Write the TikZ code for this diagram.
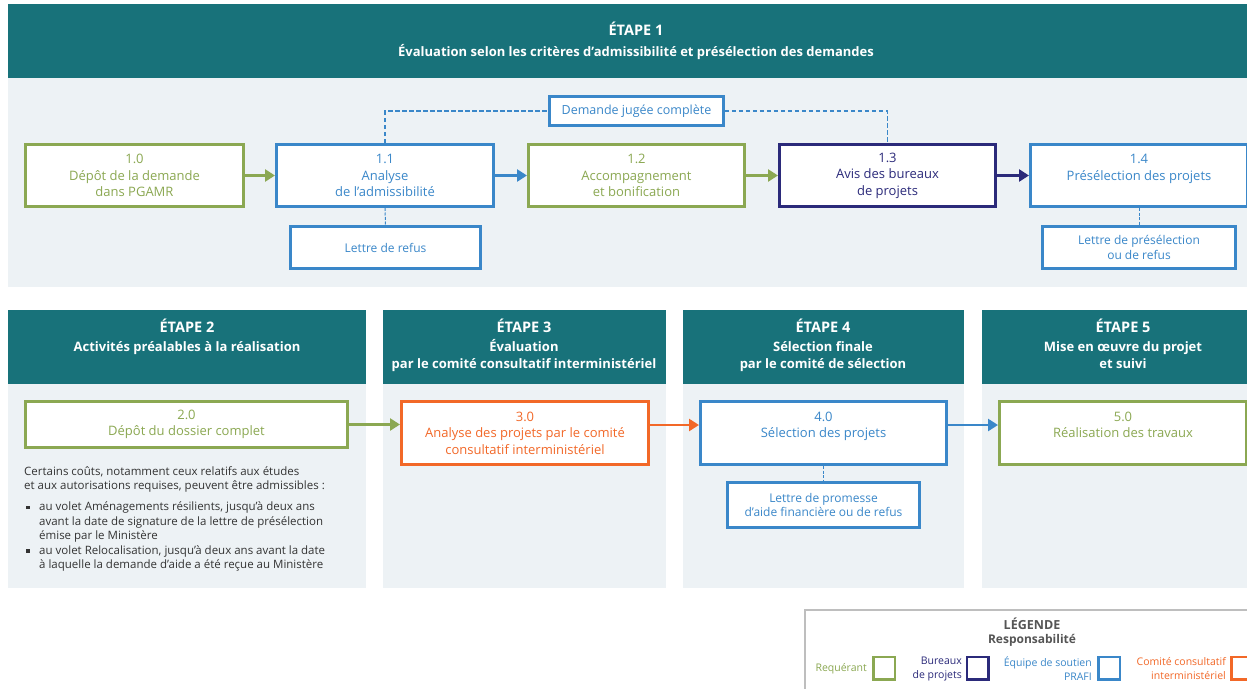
\documentclass[tikz,border=0pt]{standalone}
\usepackage{fontspec}
\setmainfont{Open Sans}
\usetikzlibrary{arrows.meta}
\definecolor{hdrteal}{RGB}{24,114,122}
\definecolor{panelbg}{RGB}{237,242,245}
\definecolor{cgreen}{RGB}{139,168,82}
\definecolor{cblue}{RGB}{58,135,201}
\definecolor{cnavy}{RGB}{43,42,122}
\definecolor{corange}{RGB}{242,104,40}
\definecolor{cgray}{RGB}{85,85,85}
\definecolor{lgborder}{RGB}{190,190,190}
\newcommand{\sqbul}{\makebox[15pt][l]{\hspace{2pt}\raisebox{1.5pt}{\rule{3.5pt}{3.5pt}}}}
\tikzset{
  proc/.style={draw=#1, text=#1, fill=white, line width=3pt, inner sep=0pt, align=center, font=\fontsize{13}{16.5}\selectfont},
  subbox/.style={draw=cblue, text=cblue, fill=white, line width=3pt, inner sep=0pt, align=center, font=\fontsize{12}{14.5}\selectfont},
  hdrtitle/.style={text=white, font=\bfseries\fontsize{14.5}{16}\selectfont, anchor=base, inner sep=0pt},
  hdrsub/.style={text=white, font=\bfseries\fontsize{13}{15}\selectfont, anchor=base, inner sep=0pt},
  arr/.style={draw=#1, line width=2.5pt, -{Triangle[length=10pt,width=12pt]}},
  dashcon/.style={draw=cblue, line width=1.6pt, dash pattern=on 4.5pt off 2.5pt},
  thindash/.style={draw=cblue, line width=1pt, dash pattern=on 3pt off 1.5pt},
  lgsq/.style={draw=#1, line width=2.5pt, minimum width=21.5pt, minimum height=22.5pt, inner sep=0pt},
  lgtxt/.style={text=#1, font=\fontsize{10.5}{14}\selectfont, align=right, anchor=east, inner sep=0pt},
  lghead/.style={text=cgray, font=\bfseries\fontsize{12}{14}\selectfont, anchor=base, inner sep=0pt},
}
\begin{document}
\begin{tikzpicture}[x=1pt,y=-1pt]
\useasboundingbox (0,0) rectangle (1247,688);
\clip (0,0) rectangle (1247,688);
\fill[white] (0,0) rectangle (1247,688);
% ---------- Étape 1 ----------
\fill[hdrteal] (8,4) rectangle (1270,78);
\fill[panelbg] (8,78) rectangle (1270,287);
\node[hdrtitle] (t1) at (636,35) {ÉTAPE 1};
\node[hdrsub] (s1) at (636,56) {Évaluation selon les critères d’admissibilité et présélection des demandes};

\node[proc=cgreen, minimum width=218pt, minimum height=62pt] (n10) at (134.5,175.5) {1.0\\Dépôt de la demande\\dans PGAMR};
\node[proc=cblue, minimum width=217pt, minimum height=62pt] (n11) at (385,175.5) {1.1\\Analyse\\de l’admissibilité};
\node[proc=cgreen, minimum width=216pt, minimum height=62pt] (n12) at (636.5,175.5) {1.2\\Accompagnement\\et bonification};
\node[proc=cnavy, minimum width=216pt, minimum height=62pt] (n13) at (887.5,175.5) {1.3\\Avis des bureaux\\de projets};
\node[proc=cblue, minimum width=217pt, minimum height=62pt] (n14) at (1139,175.5) {1.4\\Présélection des projets\\\mbox{}};

\node[subbox, line width=2.5pt, minimum width=174pt, minimum height=29pt, font=\fontsize{12.5}{14.5}\selectfont] (dem) at (636.5,111) {Demande jugée complète};
\node[subbox, minimum width=190pt, minimum height=42pt] (ref) at (385.5,247.5) {Lettre de refus};
\node[subbox, minimum width=193pt, minimum height=42pt] (pres) at (1139,247.5) {Lettre de présélection\\ou de refus};

\draw[arr=cgreen] (n10.east) -- (n11.west);
\draw[arr=cblue] (n11.east) -- (n12.west);
\draw[arr=cgreen] (n12.east) -- (n13.west);
\draw[arr=cnavy] (n13.east) -- (n14.west);
\draw[dashcon] (n11.north) |- (dem.west);
\draw[dashcon] (dem.east) -| (n13.north);
\draw[thindash] (n11.south) -- (ref.north);
\draw[thindash] (n14.south) -- (pres.north);

% ---------- Étapes 2 à 5 ----------
\fill[hdrteal] (8,310) rectangle (366,384);
\fill[panelbg] (8,384) rectangle (366,588);
\fill[hdrteal] (383,310) rectangle (666,384);
\fill[panelbg] (383,384) rectangle (666,588);
\fill[hdrteal] (683,310) rectangle (964,384);
\fill[panelbg] (683,384) rectangle (964,588);
\fill[hdrteal] (982,310) rectangle (1270,384);
\fill[panelbg] (982,384) rectangle (1270,588);

\node[hdrtitle] (t2) at (187,332) {ÉTAPE 2};
\node[hdrsub] (s2a) at (187,351) {Activités préalables à la réalisation};
\node[hdrtitle] (t3) at (524,332) {ÉTAPE 3};
\node[hdrsub] (s3a) at (524,351) {Évaluation};
\node[hdrsub] (s3b) at (524,368) {par le comité consultatif interministériel};
\node[hdrtitle] (t4) at (823,332) {ÉTAPE 4};
\node[hdrsub] (s4a) at (823,351) {Sélection finale};
\node[hdrsub] (s4b) at (823,368) {par le comité de sélection};
\node[hdrtitle] (t5) at (1123,332) {ÉTAPE 5};
\node[hdrsub] (s5a) at (1123,351) {Mise en œuvre du projet};
\node[hdrsub] (s5b) at (1123,368) {et suivi};

\node[proc=cgreen, minimum width=322pt, minimum height=46pt] (n20) at (186.5,424.5) {2.0\\Dépôt du dossier complet};
\node[proc=corange, minimum width=247pt, minimum height=63pt] (n30) at (525,433) {3.0\\Analyse des projets par le comité\\consultatif interministériel};
\node[proc=cblue, minimum width=246pt, minimum height=63pt] (n40) at (823.5,433) {4.0\\Sélection des projets\\\mbox{}};
\node[proc=cgreen, minimum width=247pt, minimum height=63pt] (n50) at (1123,433) {5.0\\Réalisation des travaux\\\mbox{}};
\node[subbox, minimum width=192pt, minimum height=45pt] (prom) at (823.5,505) {Lettre de promesse\\d’aide financière ou de refus};

\draw[arr=cgreen] (n20.east) -- (n20.east -| n30.west);
\draw[arr=corange] ([yshift=8pt]n30.east) -- ([yshift=8pt]n40.west);
\draw[arr=cblue] ([yshift=8pt]n40.east) -- ([yshift=8pt]n50.west);
\draw[thindash] (n40.south) -- (prom.north);

\node[anchor=base west, inner sep=0pt, text=black!80] (note) at (24,475) {%
\begin{minipage}[t]{345pt}\parindent=0pt
\fontsize{11.5}{14.5}\selectfont
Certains coûts, notamment ceux relatifs aux études\newline
et aux autorisations requises, peuvent être admissibles :\par
\vspace{6.5pt}
\hangindent=15pt\hangafter=1\noindent\sqbul au volet Aménagements résilients, jusqu’à deux ans\newline avant la date de signature de la lettre de présélection\newline émise par le Ministère\par
\hangindent=15pt\hangafter=1\noindent\sqbul au volet Relocalisation, jusqu’à deux ans avant la date\newline à laquelle la demande d’aide a été reçue au Ministère\par
\end{minipage}};

% ---------- Légende ----------
\draw[lgborder, line width=1.5pt] (805,610) rectangle (1270,700);
\node[lghead, font=\bfseries\fontsize{12.5}{14}\selectfont] (lg1) at (1032,629.5) {LÉGENDE};
\node[lghead] (lg2) at (1032,643) {Responsabilité};
\node[lgsq=cgreen] (q1) at (884,668) {};
\node[lgsq=cnavy] (q2) at (977.5,668) {};
\node[lgsq=cblue] (q3) at (1109,668) {};
\node[lgsq=corange] (q4) at (1242,668) {};
\node[lgtxt=cgreen] (l1) at (867,669) {Requérant};
\node[lgtxt=cnavy] (l2) at (962,669) {Bureaux\\de projets};
\node[lgtxt=cblue] (l3) at (1092,669) {Équipe de soutien\\PRAFI};
\node[lgtxt=corange] (l4) at (1226,669) {Comité consultatif\\interministériel};
\end{tikzpicture}
\end{document}
